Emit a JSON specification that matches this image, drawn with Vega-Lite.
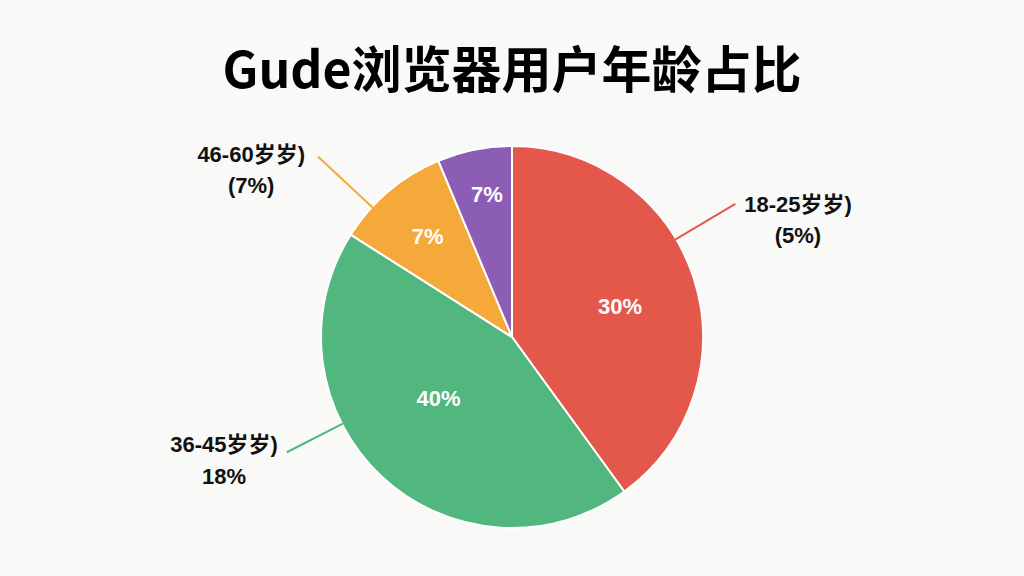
{
  "$schema": "https://vega.github.io/schema/vega-lite/v6.json",
  "width": 1024,
  "height": 478,
  "autosize": {"type": "none"},
  "padding": {"top": 98, "left": 0, "right": 0, "bottom": 0},
  "background": "#f9f9f7",
  "config": {"view": {"stroke": null}},
  "title": {
    "text": "Gude浏览器用户年龄占比",
    "fontSize": 50,
    "font": "Noto Sans CJK SC",
    "fontWeight": "bold",
    "color": "#000000",
    "anchor": "middle",
    "baseline": "alphabetic",
    "offset": 8,
    "dy": 48
  },
  "data": {
    "values": [
      {"cat": "18-25岁", "value": 40, "order": 1, "inner": "30%", "outer": "18-25岁岁)\n(5%)"},
      {"cat": "36-45岁", "value": 44, "order": 2, "inner": "40%", "outer": "36-45岁岁)\n18%"},
      {"cat": "46-60岁", "value": 9.7, "order": 3, "inner": "7%", "outer": "46-60岁岁)\n(7%)"},
      {"cat": "60岁以上", "value": 6.3, "order": 4, "inner": "7%", "outer": ""}
    ]
  },
  "encoding": {
    "theta": {"field": "value", "type": "quantitative", "stack": true},
    "order": {"field": "order", "type": "quantitative"}
  },
  "layer": [
    {
      "mark": {"type": "arc", "radius": 191, "stroke": "#ffffff", "strokeWidth": 2},
      "encoding": {
        "color": {
          "field": "cat", "type": "nominal", "legend": null,
          "scale": {"domain": ["18-25岁", "36-45岁", "46-60岁", "60岁以上"], "range": ["#e4584b", "#52b67f", "#f4a93a", "#8b5db4"]}
        }
      }
    },
    {
      "transform": [
        {"stack": "value", "groupby": [], "sort": [{"field": "order"}], "as": ["t0", "t1"]},
        {"filter": "datum.cat == '18-25岁'"}
      ],
      "mark": {"type": "arc", "filled": false, "radius": 260, "radius2": 190, "thetaOffset": 1.0332, "theta2Offset": 1.0332, "strokeWidth": 2},
      "encoding": {
        "theta": {"field": "t0", "type": "quantitative"},
        "theta2": {"field": "t0"},
        "color": {"field": "cat", "type": "nominal", "legend": null}
      }
    },
    {
      "transform": [
        {"stack": "value", "groupby": [], "sort": [{"field": "order"}], "as": ["t0", "t1"]},
        {"filter": "datum.cat == '36-45岁'"}
      ],
      "mark": {"type": "arc", "filled": false, "radius": 253, "radius2": 190, "thetaOffset": 1.7261, "theta2Offset": 1.7261, "strokeWidth": 2},
      "encoding": {
        "theta": {"field": "t0", "type": "quantitative"},
        "theta2": {"field": "t0"},
        "color": {"field": "cat", "type": "nominal", "legend": null}
      }
    },
    {
      "transform": [
        {"stack": "value", "groupby": [], "sort": [{"field": "order"}], "as": ["t0", "t1"]},
        {"filter": "datum.cat == '46-60岁'"}
      ],
      "mark": {"type": "arc", "filled": false, "radius": 265, "radius2": 190, "thetaOffset": 0.1833, "theta2Offset": 0.1833, "strokeWidth": 2},
      "encoding": {
        "theta": {"field": "t0", "type": "quantitative"},
        "theta2": {"field": "t0"},
        "color": {"field": "cat", "type": "nominal", "legend": null}
      }
    },
    {
      "mark": {"type": "text", "radius": 112, "thetaOffset": 0.044, "fontSize": 22, "fontWeight": "bold", "font": "Liberation Sans", "fill": "#ffffff", "align": "center", "baseline": "middle"},
      "encoding": {
        "detail": {"field": "cat", "type": "nominal"},
        "text": {"condition": {"test": "datum.order == 1", "field": "inner", "type": "nominal"}, "value": ""}
      }
    },
    {
      "mark": {"type": "text", "radius": 96, "thetaOffset": 0.119, "fontSize": 22, "fontWeight": "bold", "font": "Liberation Sans", "fill": "#ffffff", "align": "center", "baseline": "middle"},
      "encoding": {
        "detail": {"field": "cat", "type": "nominal"},
        "text": {"condition": {"test": "datum.order == 2", "field": "inner", "type": "nominal"}, "value": ""}
      }
    },
    {
      "mark": {"type": "text", "radius": 131, "fontSize": 22, "fontWeight": "bold", "font": "Liberation Sans", "fill": "#ffffff", "align": "center", "baseline": "middle"},
      "encoding": {
        "detail": {"field": "cat", "type": "nominal"},
        "text": {"condition": {"test": "datum.order == 3", "field": "inner", "type": "nominal"}, "value": ""}
      }
    },
    {
      "mark": {"type": "text", "radius": 144, "thetaOffset": 0.023, "fontSize": 22, "fontWeight": "bold", "font": "Liberation Sans", "fill": "#ffffff", "align": "center", "baseline": "middle"},
      "encoding": {
        "detail": {"field": "cat", "type": "nominal"},
        "text": {"condition": {"test": "datum.order == 4", "field": "inner", "type": "nominal"}, "value": ""}
      }
    },
    {
      "transform": [
        {"stack": "value", "groupby": [], "sort": [{"field": "order"}], "as": ["t0", "t1"]},
        {"filter": "datum.cat == '18-25岁'"}
      ],
      "mark": {"type": "text", "radius": 315, "thetaOffset": 1.138, "fontSize": 22, "fontWeight": "bold", "font": "Liberation Sans, Noto Sans CJK SC", "fill": "#111111", "align": "center", "baseline": "middle", "lineBreak": "\n", "lineHeight": 31},
      "encoding": {
        "theta": {"field": "t0", "type": "quantitative", "stack": null},
        "text": {"field": "outer", "type": "nominal"}
      }
    },
    {
      "transform": [
        {"stack": "value", "groupby": [], "sort": [{"field": "order"}], "as": ["t0", "t1"]},
        {"filter": "datum.cat == '36-45岁'"}
      ],
      "mark": {"type": "text", "radius": 307.6, "thetaOffset": 1.8396, "fontSize": 22, "fontWeight": "bold", "font": "Liberation Sans, Noto Sans CJK SC", "fill": "#111111", "align": "center", "baseline": "middle", "lineBreak": "\n", "lineHeight": 32},
      "encoding": {
        "theta": {"field": "t0", "type": "quantitative", "stack": null},
        "text": {"field": "outer", "type": "nominal"}
      }
    },
    {
      "transform": [
        {"stack": "value", "groupby": [], "sort": [{"field": "order"}], "as": ["t0", "t1"]},
        {"filter": "datum.cat == '46-60岁'"}
      ],
      "mark": {"type": "text", "radius": 318, "thetaOffset": 0.0436, "fontSize": 22, "fontWeight": "bold", "font": "Liberation Sans, Noto Sans CJK SC", "fill": "#111111", "align": "center", "baseline": "middle", "lineBreak": "\n", "lineHeight": 31},
      "encoding": {
        "theta": {"field": "t0", "type": "quantitative", "stack": null},
        "text": {"field": "outer", "type": "nominal"}
      }
    }
  ]
}
